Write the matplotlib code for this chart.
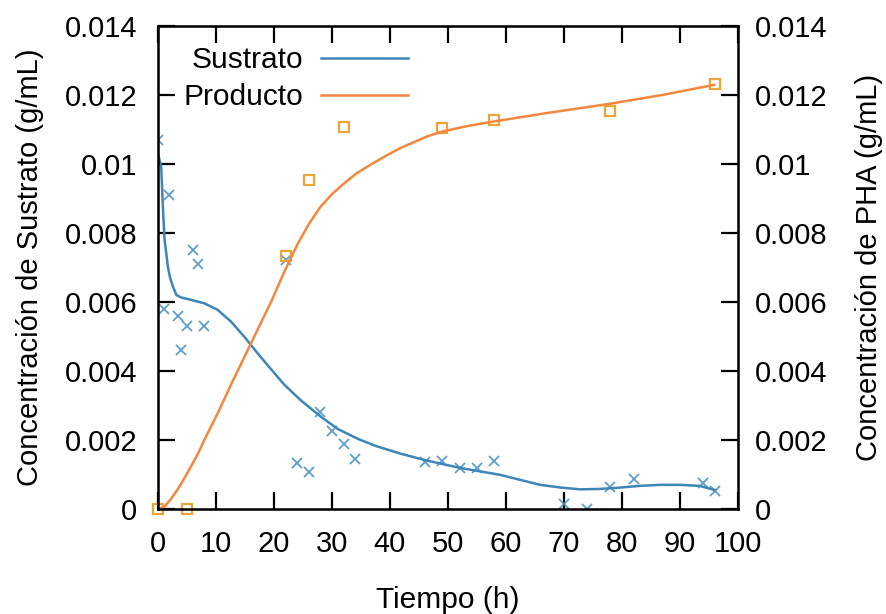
import matplotlib
matplotlib.use('Agg')
import matplotlib.pyplot as plt

plt.rcParams['font.family'] = ['Liberation Sans', 'DejaVu Sans']

# measured substrate (x markers)
sus_t = [0, 1, 2, 3.5, 4, 5, 6, 7, 8, 22, 24, 26, 28, 30, 32, 34,
         46, 49, 52, 55, 58, 70, 74, 78, 82, 94, 96]
sus_c = [0.0107, 0.0058, 0.0091, 0.0056, 0.0046, 0.0053, 0.0075, 0.0071, 0.0053,
         0.0072, 0.00132, 0.00108, 0.0028, 0.00226, 0.00189, 0.00144,
         0.00137, 0.00139, 0.0012, 0.0012, 0.00139, 0.00014, 0.0, 0.00063, 0.00087,
         0.00076, 0.00053]

# measured product (squares)
prod_t = [0, 5, 22, 26, 32, 49, 58, 78, 96]
prod_c = [0.0, 0.0, 0.00734, 0.00954, 0.01108, 0.01105, 0.01128, 0.01154, 0.01232]

# fitted curves
fit_sus_t = [0, 0.3, 0.57, 0.86, 1.15, 1.45, 1.72, 2.1, 2.6, 3.2, 4.0, 5.7, 8.0,
             10.3, 12.6, 14.9, 17.2, 19.0, 21.8, 24.7, 28.2, 31.0, 34.5, 37.5,
             41.7, 46.2, 52.1, 59.0, 65.9, 69.5, 72.8, 76.0, 79.7, 83.0, 86.6,
             90.0, 93.4, 96.0]
fit_sus_c = [0.0103, 0.0101, 0.00992, 0.00876, 0.0078, 0.0074, 0.00702, 0.0067,
             0.00644, 0.0062, 0.00613, 0.00606, 0.00596, 0.00577, 0.00543, 0.00499,
             0.00451, 0.00415, 0.0036, 0.00314, 0.00266, 0.00232, 0.00203, 0.00183,
             0.00161, 0.00141, 0.00119, 0.00099, 0.0007, 0.00062, 0.00057, 0.00058,
             0.00062, 0.00067, 0.0007, 0.0007, 0.00067, 0.00055]

fit_prod_t = [0, 1.15, 2.3, 3.45, 4.6, 5.7, 6.9, 8.0, 10.3, 12.6, 14.9, 17.2,
              19.5, 22.0, 24.0, 26.0, 28.0, 30.0, 32.0, 34.2, 37.1, 39.5, 41.7,
              44.0, 46.5, 49.1, 53.5, 58.0, 67.0, 77.9, 87.1, 95.9]
fit_prod_c = [0.0, 0.00007, 0.0003, 0.00058, 0.0009, 0.00123, 0.0016, 0.002,
              0.00277, 0.0036, 0.0044, 0.0052, 0.006, 0.00695, 0.00765, 0.00825,
              0.00875, 0.00912, 0.00942, 0.00972, 0.01002, 0.01025, 0.01045,
              0.01062, 0.0108, 0.01094, 0.0111, 0.01123, 0.01147, 0.01174, 0.012,
              0.01229]

blue_line = '#3f86b8'
blue_mark = '#4d93c6'
orange_line = '#f4873f'
orange_mark = '#eca43a'

fig = plt.figure(figsize=(8.87, 6.14), dpi=100)
ax = fig.add_axes([0.178, 0.171, 0.654, 0.787])

ax.plot(sus_t, sus_c, linestyle='none', marker='x', markersize=7, mew=1.3,
        color=blue_mark, alpha=0.9)
ax.plot(prod_t, prod_c, linestyle='none', marker='s', markersize=7, mew=1.6,
        markerfacecolor='none', markeredgecolor=orange_mark, clip_on=False)
ax.plot(fit_sus_t, fit_sus_c, color=blue_line, linewidth=1.8, label='Sustrato')
ax.plot(fit_prod_t, fit_prod_c, color=orange_line, linewidth=1.8, label='Producto')

ax.set_xlim(0, 100)
ax.set_ylim(0, 0.014)
ax.set_xticks(range(0, 101, 10))
yt = [0, 0.002, 0.004, 0.006, 0.008, 0.01, 0.012, 0.014]
ylab = ['0', '0.002', '0.004', '0.006', '0.008', '0.01', '0.012', '0.014']
ax.set_yticks(yt)
ax.set_yticklabels(ylab)
ax.tick_params(axis='both', direction='in', length=12, width=1.6, labelsize=21)
ax.tick_params(axis='y', pad=15)
ax.tick_params(axis='x', top=True, pad=15)
for s in ax.spines.values():
    s.set_linewidth(1.8)

ax.set_xlabel('Tiempo (h)', fontsize=21.5, labelpad=20)
ax.set_ylabel('Concentración de Sustrato (g/mL)', fontsize=21, labelpad=15)

ax2 = ax.twinx()
ax2.set_ylim(0, 0.014)
ax2.set_yticks(yt)
ax2.set_yticklabels(ylab)
ax2.tick_params(axis='y', direction='in', length=12, width=1.6, labelsize=21, pad=12)
ax2.set_ylabel('Concentración de PHA (g/mL)', fontsize=21, labelpad=20)

leg = ax.legend(loc='upper left', bbox_to_anchor=(-0.002, 1.013), frameon=False,
                markerfirst=False, fontsize=21.5, handlelength=2.9, handletextpad=0.6,
                labelspacing=0.3)

fig.savefig('out.png', dpi=100)
